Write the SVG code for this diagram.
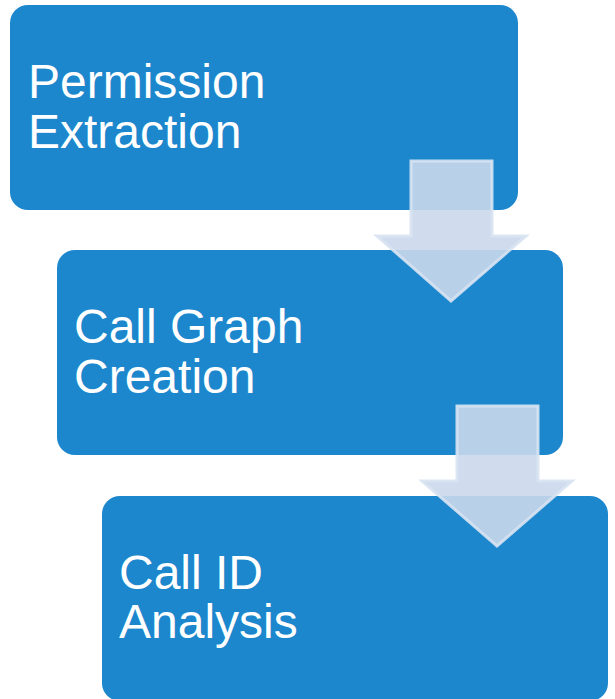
<svg xmlns="http://www.w3.org/2000/svg" width="615" height="699" viewBox="0 0 615 699">
<style>
.box{fill:#1c87cd;}
.lbl{font-family:"Liberation Sans",Arial,sans-serif;font-size:48px;fill:#ffffff;}
.arr{fill:#cbd8ec;fill-opacity:0.9;stroke:#d8e3f2;stroke-width:3;stroke-opacity:0.9;stroke-linejoin:miter;}
</style>
<rect width="615" height="699" fill="#ffffff"/>
<g id="node-permission">
<rect class="box" x="10" y="5" width="508" height="205" rx="18"/>
<text class="lbl" x="28" y="98">Permission</text>
<text class="lbl" x="28" y="148">Extraction</text>
</g>
<g id="node-callgraph">
<rect class="box" x="57" y="250" width="506" height="205" rx="18"/>
<text class="lbl" x="74" y="343">Call Graph</text>
<text class="lbl" x="74" y="393">Creation</text>
</g>
<g id="node-callid">
<rect class="box" x="102" y="496" width="506" height="205" rx="18"/>
<text class="lbl" x="119" y="589">Call ID</text>
<text class="lbl" x="119" y="638">Analysis</text>
</g>
<g id="connectors">
<polygon class="arr" points="411,161 492,161 492,236 526,236 451,301 377,236 411,236"/>
<polygon class="arr" points="457,406 538,406 538,481 572,481 497,546 422,481 457,481"/>
</g>
</svg>
